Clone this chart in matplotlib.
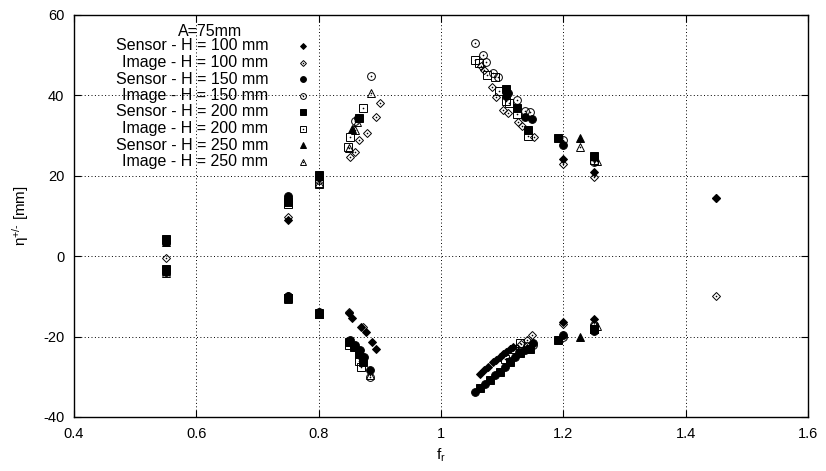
import matplotlib
matplotlib.use("Agg")
import matplotlib.pyplot as plt

plt.rcParams['font.family'] = ['Liberation Sans', 'DejaVu Sans']
plt.rcParams['mathtext.fontset'] = 'custom'
plt.rcParams['mathtext.rm'] = 'Liberation Sans'
plt.rcParams['mathtext.it'] = 'Liberation Sans:italic'
plt.rcParams['axes.unicode_minus'] = False

# ---------------- data ----------------
title_text = "A=75mm"

s100_x = [0.55, 0.55, 0.75, 0.75, 0.80, 0.80, 0.850, 0.855, 0.870, 0.877, 0.888, 0.893,
          1.064, 1.070, 1.077, 1.085, 1.090, 1.096, 1.102, 1.107, 1.112, 1.118,
          1.200, 1.200, 1.250, 1.250, 1.450]
s100_y = [3.8, -3.4, 9.0, -10.0, 19.5, -14.2, -14.2, -15.4, -17.7, -18.9, -21.4, -23.2,
          -29.2, -28.2, -27.5, -26.3, -25.7, -25.0, -24.3, -23.8, -23.1, -22.5,
          24.2, -16.4, 21.0, -15.5, 14.6]

i100_x = [0.55, 0.75, 0.75, 0.80, 0.850, 0.852, 0.859, 0.866, 0.879, 0.893, 0.900, 0.872,
          1.066, 1.070, 1.083, 1.090, 1.101, 1.110, 1.126, 1.132, 1.152,
          1.130, 1.140, 1.148, 1.200, 1.200, 1.250, 1.250, 1.450, 1.450]
i100_y = [-0.4, 9.8, -9.8, -14.0, -14.0, 24.7, 25.9, 28.9, 30.7, 34.7, 38.0, -17.6,
          47.3, 46.3, 42.1, 39.6, 36.3, 35.6, 33.4, 32.3, 29.6,
          -21.8, -20.9, -19.7, 23.0, -16.8, 19.6, -17.0, 14.6, -9.9]

s150_x = [0.55, 0.55, 0.75, 0.75, 0.80, 0.80, 0.851, 0.860, 0.868, 0.874, 0.884, 0.864,
          1.106, 1.110, 1.137, 1.148,
          1.056, 1.072, 1.088, 1.105, 1.121, 1.137, 1.150,
          1.200, 1.200, 1.250, 1.250]
s150_y = [3.5, -3.9, 15.0, -9.8, 19.8, -14.0, -20.9, -22.0, -23.4, -25.0, -28.4, 34.3,
          39.8, 40.5, 34.6, 34.1,
          -33.7, -31.7, -29.6, -27.5, -25.0, -23.4, -21.7,
          27.6, -19.7, 24.6, -18.5]

i150_x = [0.55, 0.55, 0.75, 0.75, 0.80, 0.80, 0.885, 0.860, 0.884, 0.868,
          1.056, 1.068, 1.074, 1.085, 1.094, 1.124, 1.137, 1.145,
          1.150, 1.140, 1.128, 1.112,
          1.200, 1.200, 1.250, 1.250]
i150_y = [4.0, -3.6, 14.5, -10.2, 19.0, -14.3, 44.8, 33.6, -30.0, -24.5,
          53.1, 50.0, 48.3, 45.5, 44.6, 38.8, 36.1, 35.9,
          -22.1, -22.4, -23.8, -26.0,
          28.9, -20.2, 23.4, -17.2]

s200_x = [0.55, 0.55, 0.75, 0.75, 0.80, 0.80, 0.866, 0.850, 0.858, 0.866, 0.872,
          1.106, 1.124, 1.142,
          1.064, 1.080, 1.096, 1.113, 1.129, 1.146,
          1.192, 1.192, 1.250, 1.250]
s200_y = [4.3, -3.3, 13.5, -10.5, 20.2, -14.5, 34.5, -21.4, -22.6, -24.3, -26.4,
          41.5, 36.8, 31.3,
          -32.9, -30.8, -28.8, -26.3, -24.2, -23.0,
          29.5, -20.8, 25.0, -18.0]

i200_x = [0.55, 0.55, 0.75, 0.75, 0.80, 0.80, 0.873, 0.852, 0.848, 0.850, 0.866, 0.870,
          1.056, 1.062, 1.075, 1.088, 1.095, 1.106, 1.111, 1.124, 1.142,
          1.129, 1.120, 1.104, 1.250, 1.250]
i200_y = [4.1, -3.4, 13.0, -10.3, 18.0, -14.2, 36.8, 29.6, 27.2, -22.0, -26.0, -27.6,
          48.8, 48.0, 45.0, 44.6, 41.1, 38.5, 38.1, 35.3, 29.9,
          -21.7, -23.2, -25.6, 24.0, -18.2]

s250_x = [0.55, 0.55, 0.75, 0.75, 0.80, 0.80, 0.854, 0.862, 0.870, 1.228, 1.228]
s250_y = [3.6, -3.8, 14.2, -10.0, 20.0, -14.0, 31.6, -22.5, -24.0, 29.4, -20.0]

i250_x = [0.55, 0.75, 0.75, 0.80, 0.80, 0.885, 0.863, 0.859, 0.850, 0.884,
          1.228, 1.255, 1.255]
i250_y = [-4.2, 13.8, -10.6, 18.2, -14.3, 40.5, 33.4, 31.3, 27.0, -29.6,
          27.2, 23.6, -17.4]

series_labels = ["Sensor - H = 100 mm", "Image - H = 100 mm",
                 "Sensor - H = 150 mm", "Image - H = 150 mm",
                 "Sensor - H = 200 mm", "Image - H = 200 mm",
                 "Sensor - H = 250 mm", "Image - H = 250 mm"]

x_ticks = [0.4, 0.6, 0.8, 1.0, 1.2, 1.4, 1.6]
x_tick_labels = ["0.4", "0.6", "0.8", "1", "1.2", "1.4", "1.6"]
y_ticks = [-40, -20, 0, 20, 40, 60]
y_tick_labels = ["-40", "-20", "0", "20", "40", "60"]

# ---------------- style ----------------
series = [
    (s100_x, s100_y, 'D', 4.0, True),
    (i100_x, i100_y, 'D', 4.0, False),
    (s150_x, s150_y, 'o', 5.6, True),
    (i150_x, i150_y, 'o', 5.6, False),
    (s200_x, s200_y, 's', 5.2, True),
    (i200_x, i200_y, 's', 5.2, False),
    (s250_x, s250_y, '^', 5.4, True),
    (i250_x, i250_y, '^', 5.4, False),
]

fig = plt.figure(figsize=(8.26, 4.71), dpi=100)
ax = fig.add_axes([74/826, 1-417/471, 734/826, 402/471])

for xs, ys, m, ms, filled in series:
    if filled:
        ax.plot(xs, ys, linestyle='none', marker=m, ms=ms, mfc='black', mec='black',
                mew=0.7, zorder=3)
    else:
        ax.plot(xs, ys, linestyle='none', marker=m, ms=ms, mfc='none', mec='black',
                mew=0.7, zorder=4)
        ax.plot(xs, ys, linestyle='none', marker='o', ms=1.2, mfc='black', mec='black',
                mew=0, zorder=4)

ax.set_xlim(0.4, 1.6)
ax.set_ylim(-40, 60)
ax.set_xticks(x_ticks)
ax.set_xticklabels(x_tick_labels)
ax.set_yticks(y_ticks)
ax.set_yticklabels(y_tick_labels)
ax.tick_params(direction='in', top=True, right=True, length=5, width=0.8,
               labelsize=10.5, pad=7)
ax.grid(True, color='black', linestyle=(0, (1, 2.5)), linewidth=0.7)
for sp in ax.spines.values():
    sp.set_linewidth(1.0)

ax.set_xlabel(r'$\mathregular{f_r}$', fontsize=11, labelpad=4)
ax.set_ylabel('\u03b7$\\mathregular{^{+/\u2010}}$ [mm]', fontsize=11, labelpad=9)

# ---------------- key (gnuplot style) ----------------
def ax_y(py):
    return 1 - (py - 15) / 402

ax.text((210 - 74) / 734, ax_y(31), title_text, transform=ax.transAxes,
        ha='center', va='center', fontsize=11.5)
row_py = [46, 62.5, 79, 95.5, 112, 128.5, 145, 161.5]
for (xs, ys, m, ms, filled), lab, py in zip(series, series_labels, row_py):
    ax.text((268 - 74) / 734, ax_y(py), lab, transform=ax.transAxes,
            ha='right', va='center', fontsize=11.5)
    kx = (303 - 74) / 734
    if filled:
        ax.plot([kx], [ax_y(py)], transform=ax.transAxes, marker=m, ms=ms*0.75,
                mfc='black', mec='black', mew=0.7, linestyle='none', clip_on=False)
    else:
        ax.plot([kx], [ax_y(py)], transform=ax.transAxes, marker=m, ms=ms*0.75,
                mfc='none', mec='black', mew=0.7, linestyle='none', clip_on=False)
        ax.plot([kx], [ax_y(py)], transform=ax.transAxes, marker='o', ms=1.1,
                mfc='black', mec='black', mew=0, linestyle='none', clip_on=False)

fig.savefig('out.png', dpi=100)
